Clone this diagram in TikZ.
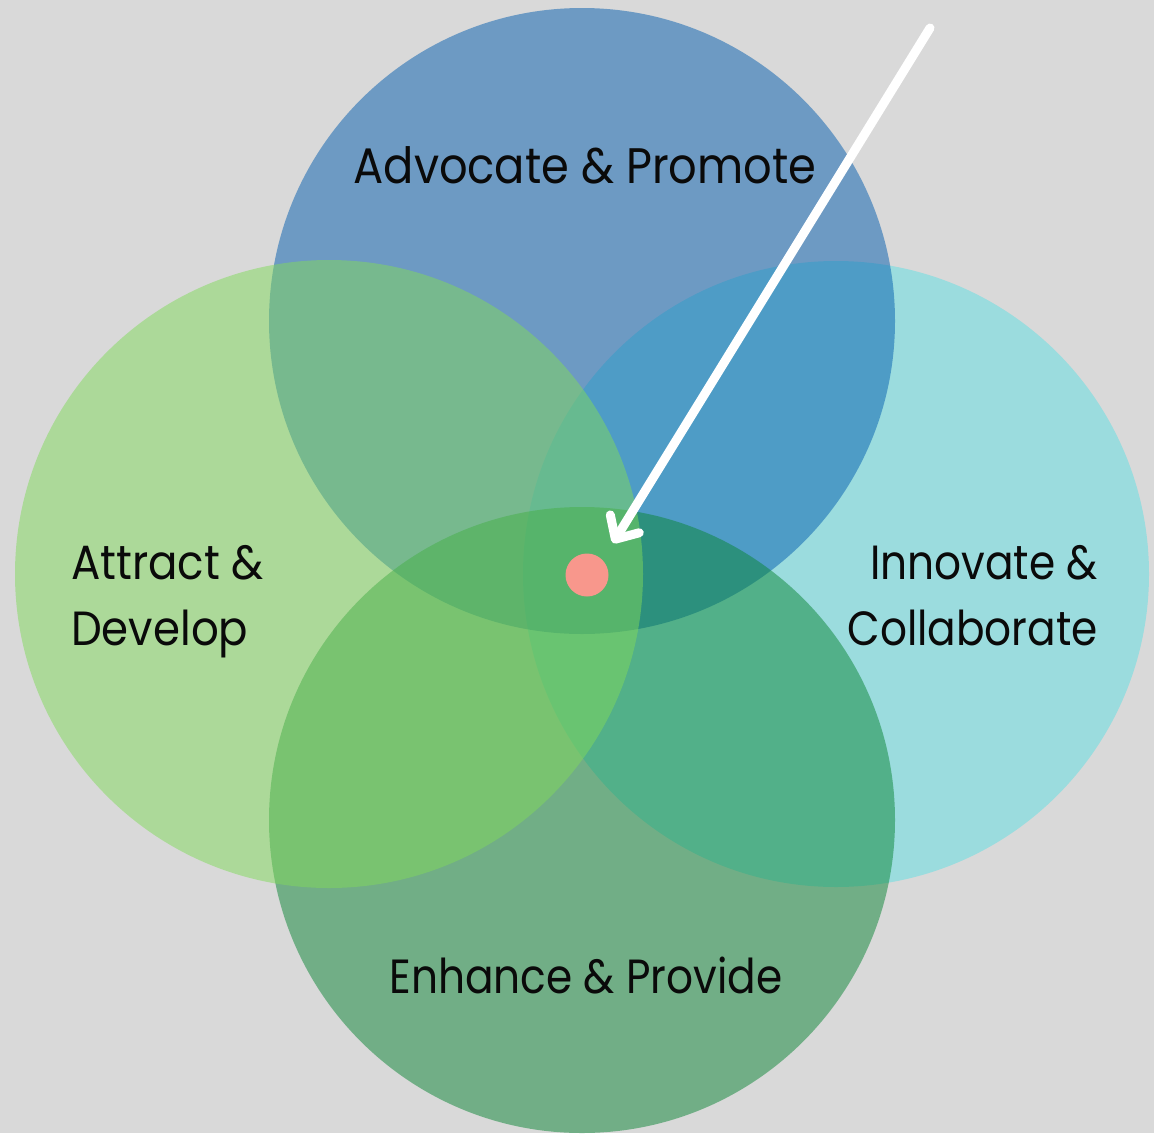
\documentclass[tikz,border=0pt]{standalone}
\usepackage{fontspec}
\setmainfont{Poppins}
\usetikzlibrary{arrows.meta}
\definecolor{bg}{HTML}{D9D9D9}
\definecolor{cT}{RGB}{3,93,175}
\definecolor{cB}{RGB}{11,133,53}
\definecolor{cL}{RGB}{129,217,91}
\definecolor{cR}{RGB}{155,220,222}
\definecolor{dotred}{HTML}{F8978C}
\definecolor{txt}{HTML}{0A0A0A}
\tikzset{
  disc/.style={fill opacity=0.5},
  lbl/.style={text=txt, inner sep=0pt, font=\fontsize{48}{66}\selectfont, xscale=0.88},
}
\begin{document}
\begin{tikzpicture}[x=1pt,y=-1pt]
\fill[bg] (0,0) rectangle (1154,1133);
\useasboundingbox (0,0) rectangle (1154,1133);
% circles
\fill[cR] (836,574) circle[radius=313pt];
\fill[cT,disc] (582,321) circle[radius=313pt];
\fill[cB,disc] (582,820) circle[radius=313pt];
\fill[cL,disc] (329,574) circle[radius=314pt];
% labels
\node[lbl, anchor=base, xscale=1.06, yscale=1.04] (advocate) at (585,183) {Advocate \& Promote};
\node[lbl, anchor=base] (enhance) at (586,993) {Enhance \& Provide};
\node[lbl, anchor=base west, align=left, xscale=1.03] (attract) at (71,645) {Attract \&\\Develop};
\node[lbl, anchor=base east, align=right] (innovate) at (1098,645) {Innovate \&\\Collaborate};
% arrow
\coordinate (arrowtail) at (930,28);
\coordinate (arrowtip) at (613,543);
\draw[white, line width=9pt, line cap=round, -{Straight Barb[length=18pt,width=34pt,round]}] (arrowtail) -- (arrowtip);
% centre dot
\node[circle, fill=dotred, minimum size=43pt, inner sep=0pt] (dot) at (587,575) {};
\end{tikzpicture}
\end{document}
